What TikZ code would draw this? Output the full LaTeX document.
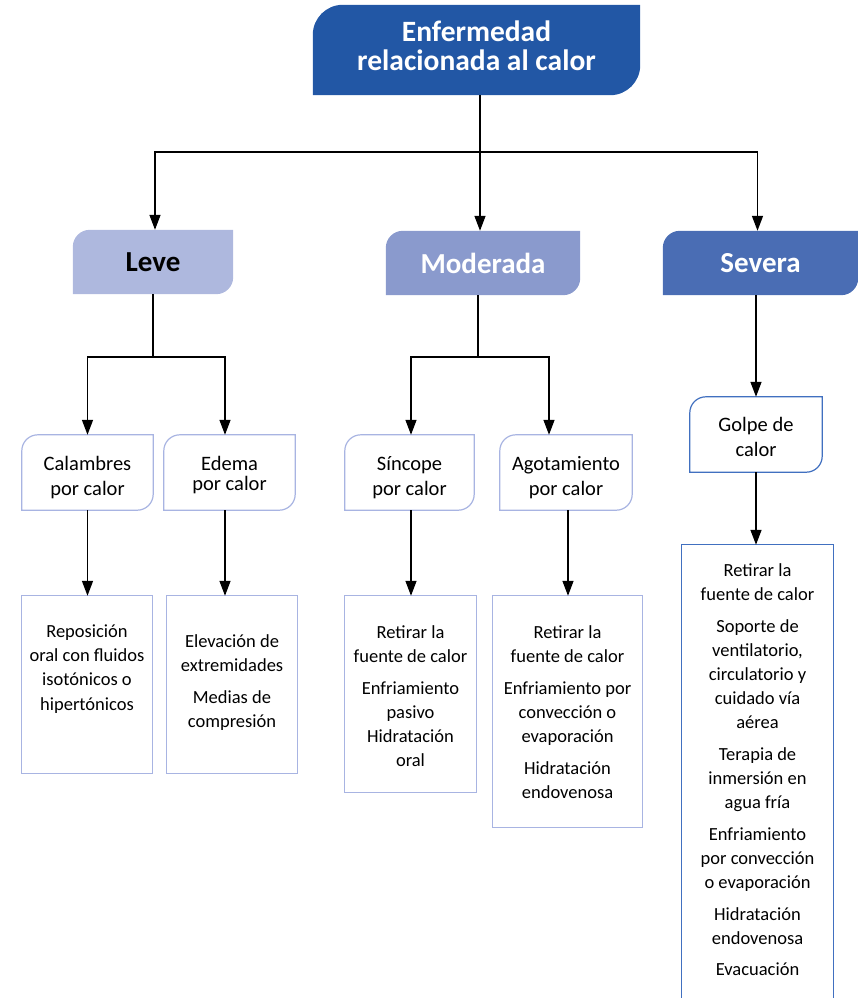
\documentclass[tikz,border=0pt]{standalone}
\usepackage{fontspec}
\setmainfont{Carlito}
\usetikzlibrary{arrows.meta,backgrounds}
\definecolor{titleblue}{HTML}{2257A5}
\definecolor{leveblue}{HTML}{AEB8DE}
\definecolor{modblue}{HTML}{8A9ACD}
\definecolor{sevblue}{HTML}{4A6DB4}
\definecolor{paleedge}{HTML}{A8B4E2}
\definecolor{darkedge}{HTML}{4170C0}

% box with rounded top-left and bottom-right corners, following a named node
\newcommand\cornerbox[3]{%
  \path[#3] ([xshift=#2]#1.north west) -- (#1.north east)
    -- ([yshift=#2]#1.south east) arc[start angle=0,end angle=-90,radius=#2]
    -- (#1.south west)
    -- ([yshift=-#2]#1.north west) arc[start angle=180,end angle=90,radius=#2]
    -- cycle;}

\begin{document}
\begin{tikzpicture}[x=1pt,y=1pt,
  frame/.style={rectangle,inner sep=0pt,minimum width=#1},
  conn/.style={line width=1.4pt,black},
  arr/.style={conn,-{Triangle[length=15pt,width=11pt]}},
  headtxt/.style={font=\fontsize{29.5}{29}\selectfont\bfseries,text=white,align=center,inner sep=0pt},
  lvltxt/.style={font=\fontsize{29}{33}\selectfont\bfseries},
  smalltxt/.style={font=\fontsize{20.5}{25}\selectfont,align=center,inner sep=0pt},
  listtxt/.style={font=\fontsize{18.5}{24.1}\selectfont,align=center,inner sep=0pt}]
\useasboundingbox (0,0) rectangle (858,-998);

% ---- headline and severity levels
\node[frame=327pt,minimum height=90pt] (title) at (476.5,-50) {};
\node[headtxt] (titlet) at ([yshift=4pt]title.center) {Enfermedad\\relacionada al calor};
\node[frame=160pt,minimum height=64pt,lvltxt,text=black] (leve) at (153,-262) {Leve};
\node[frame=194pt,minimum height=64pt,lvltxt,text=white] (mod) at (483,-263) {Moderada};
\node[frame=195pt,minimum height=64pt,lvltxt,text=white] (sev) at (760.5,-263) {Severa};

% ---- conditions
\node[frame=131pt,minimum height=75pt] (cal) at (87.5,-472.5) {};
\node[frame=131pt,minimum height=75pt] (ede) at (229.5,-472.5) {};
\node[frame=129pt,minimum height=75pt] (sin) at (409.5,-472.5) {};
\node[frame=132pt,minimum height=75pt] (ago) at (566,-472.5) {};
\node[frame=132pt,minimum height=75pt] (gol) at (756,-434.5) {};
\node[smalltxt] (calt) at ([yshift=-5pt]cal.center) {Calambres\\por calor};
\node[smalltxt] (edet) at ([yshift=-3pt]ede.center) {Edema\\[-5pt]por calor};
\node[smalltxt] (sint) at ([yshift=-5pt]sin.center) {Síncope\\por calor};
\node[smalltxt] (agot) at ([yshift=-5pt]ago.center) {Agotamiento\\por calor};
\node[smalltxt] (golt) at ([yshift=-2pt]gol.center) {Golpe de\\calor};

% ---- treatment frames
\node[frame=130pt,minimum height=177pt] (rep) at (87,-684.5) {};
\node[frame=130pt,minimum height=177pt] (ele) at (232,-684.5) {};
\node[frame=131pt,minimum height=196pt] (tsin) at (410.5,-694) {};
\node[frame=149pt,minimum height=231pt] (tago) at (567.5,-711.5) {};
\node[frame=151pt,minimum height=460pt] (tsev) at (757.5,-775) {};

% ---- treatment texts
\node[listtxt] (rept) at (87,-669) {Reposición\\oral con fluidos\\isotónicos o\\hipertónicos};
\node[listtxt] (elet) at (232,-682.5) {Elevación de\\extremidades\\[7.5pt]Medias de\\compresión};
\node[listtxt] (tsint) at (410.5,-696) {Retirar la\\fuente de calor\\[7.5pt]Enfriamiento\\pasivo\\Hidratación\\oral};
\node[listtxt] (tagot) at (567.5,-712) {Retirar la\\fuente de calor\\[7.5pt]Enfriamiento por\\convección o\\evaporación\\[7.5pt]Hidratación\\endovenosa};
\node[listtxt] (tsevt) at (757.5,-770) {Retirar la\\fuente de calor\\[7.5pt]Soporte de\\ventilatorio,\\circulatorio y\\cuidado vía\\aérea\\[7.5pt]Terapia de\\inmersión en\\agua fría\\[7.5pt]Enfriamiento\\por convección\\o evaporación\\[7.5pt]Hidratación\\endovenosa\\[7.5pt]Evacuación};

% ---- shapes behind the texts
\begin{pgfonlayer}{background}
  \cornerbox{title}{30pt}{fill=titleblue}
  \cornerbox{leve}{17pt}{fill=leveblue}
  \cornerbox{mod}{17pt}{fill=modblue}
  \cornerbox{sev}{17pt}{fill=sevblue}
  \cornerbox{cal}{16pt}{draw=paleedge,line width=1.2pt,fill=white}
  \cornerbox{ede}{16pt}{draw=paleedge,line width=1.2pt,fill=white}
  \cornerbox{sin}{16pt}{draw=paleedge,line width=1.2pt,fill=white}
  \cornerbox{ago}{16pt}{draw=paleedge,line width=1.2pt,fill=white}
  \cornerbox{gol}{16pt}{draw=darkedge,line width=1.2pt,fill=white}
  \draw[paleedge,line width=1.2pt] (rep.south west) rectangle (rep.north east);
  \draw[paleedge,line width=1.2pt] (ele.south west) rectangle (ele.north east);
  \draw[paleedge,line width=1.2pt] (tsin.south west) rectangle (tsin.north east);
  \draw[paleedge,line width=1.2pt] (tago.south west) rectangle (tago.north east);
  \draw[darkedge,line width=1.2pt] (tsev.south west) -- (tsev.north west) -- (tsev.north east) -- (tsev.south east);
\end{pgfonlayer}

% ---- connectors
\coordinate (tj) at (480,-152);
\draw[conn] (title.south -| tj) -- (tj);
\draw[arr] (tj) -| ([xshift=2pt]leve.north);
\draw[arr] (tj) -- (tj |- mod.north);
\draw[arr] (tj) -| ([xshift=-3pt]sev.north);

\coordinate (lj) at (153,-357);
\draw[conn] (leve.south) -- (lj);
\draw[arr] (lj) -| (cal.north);
\draw[arr] (lj) -| ([xshift=-4.5pt]ede.north);

\coordinate (mj) at (478,-357);
\draw[conn] (mod.south -| mj) -- (mj);
\draw[arr] (mj) -| ([xshift=1.5pt]sin.north);
\draw[arr] (mj) -| ([xshift=-17pt]ago.north);

\draw[arr] (gol.north |- sev.south) -- (gol.north);

\draw[arr] (cal.south) -- (cal.south |- rep.north);
\draw[arr] ([xshift=-4.5pt]ede.south) -- ([xshift=-4.5pt]ede.south |- ele.north);
\draw[arr] ([xshift=1.5pt]sin.south) -- ([xshift=1.5pt]sin.south |- tsin.north);
\draw[arr] ([xshift=2pt]ago.south) -- ([xshift=2pt]ago.south |- tago.north);
\draw[arr] (gol.south) -- (gol.south |- tsev.north);
\end{tikzpicture}
\end{document}
